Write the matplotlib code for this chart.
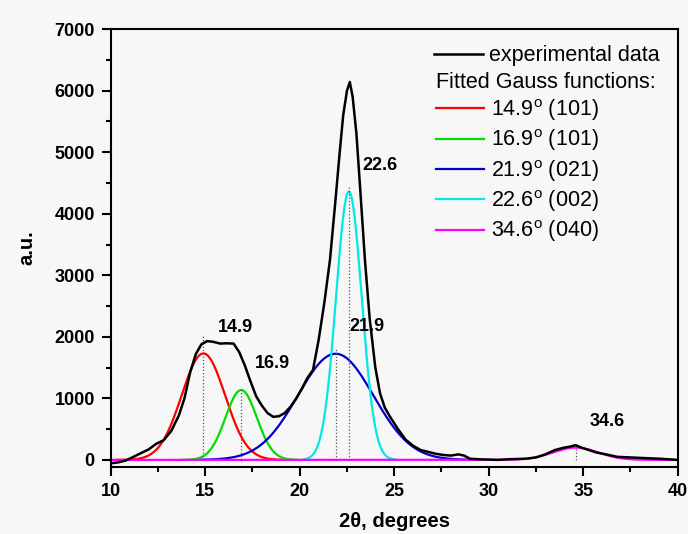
import numpy as np
import matplotlib
matplotlib.use("Agg")
import matplotlib.pyplot as plt

plt.rcParams['font.family'] = ['Liberation Sans', 'DejaVu Sans']
plt.rcParams['mathtext.fontset'] = 'custom'
plt.rcParams['mathtext.rm'] = 'Liberation Sans'

# experimental XRD pattern
exp_x = [10.0, 10.4, 10.8, 11.2, 11.6, 12.0, 12.4, 12.8, 13.2, 13.6, 13.9, 14.2,
         14.5, 14.8, 15.1, 15.4, 15.8, 16.1, 16.5, 16.8, 17.1, 17.4, 17.7, 18.0,
         18.3, 18.6, 18.9, 19.2, 19.5, 19.8, 20.1, 20.4, 20.7, 21.0, 21.3, 21.6,
         21.9, 22.1, 22.3, 22.5, 22.65, 22.8, 23.0, 23.2, 23.45, 23.7, 24.0, 24.25,
         24.5, 24.8, 25.2, 25.6, 26.0, 26.4, 26.8, 27.2, 27.6, 28.0, 28.4, 28.7,
         29.0, 29.5, 30.0, 30.5, 31.0, 31.5, 32.0, 32.5, 33.0, 33.5, 34.0, 34.3,
         34.6, 34.9, 35.3, 35.7, 36.2, 36.8, 37.5, 38.2, 39.0, 39.5, 40.0]
exp_y = [-55, -40, -10, 50, 110, 170, 260, 320, 470, 720, 1000, 1420,
         1720, 1880, 1930, 1920, 1890, 1895, 1890, 1750, 1530, 1270, 1030, 880,
         760, 700, 710, 760, 860, 990, 1150, 1330, 1460, 1950, 2550, 3250,
         4250, 4950, 5600, 6000, 6140, 5900, 5300, 4400, 3250, 2300, 1500, 1080,
         850, 690, 500, 330, 230, 160, 130, 100, 80, 70, 90, 70,
         20, 10, 5, 0, 10, 15, 20, 40, 90, 160, 200, 215,
         240, 200, 160, 120, 90, 50, 40, 30, 20, 10, 0]

# fitted Gauss functions: centre, height, sigma, drawn range
g_labels = ['14.9$^\\mathregular{o}$ (101)', '16.9$^\\mathregular{o}$ (101)',
            '21.9$^\\mathregular{o}$ (021)', '22.6$^\\mathregular{o}$ (002)',
            '34.6$^\\mathregular{o}$ (040)']
g_center = [14.9, 16.9, 21.9, 22.6, 34.6]
g_height = [1730, 1135, 1725, 4360, 200]
g_sigma = [1.15, 0.83, 2.0, 0.68, 1.2]
g_from = [10.3, 13.8, 14.8, 20.2, 10.0]
g_to = [19.5, 19.8, 29.0, 25.1, 40.0]
g_colors = ['#ff0000', '#00dd00', '#0000cc', '#00e8e8', '#ff00ff']

# dotted marker lines and peak labels
mark_top = [2014, 1185, 1803, 4440, 240]
peak_text = ['14.9', '16.9', '21.9', '22.6', '34.6']
text_x = [16.6, 18.55, 23.55, 24.23, 36.25]
text_y = [2144, 1560, 2160, 4777, 617]

fig = plt.figure(figsize=(6.88, 5.34), dpi=100, facecolor='#f7f7f7')
ax = fig.add_axes([0.161, 0.1255, 0.824, 0.82])
ax.set_facecolor('#f7f7f7')

for i in range(len(g_center)):
    gx = np.linspace(g_from[i], g_to[i], 400)
    gy = g_height[i] * np.exp(-0.5 * ((gx - g_center[i]) / g_sigma[i]) ** 2)
    ax.plot(gx, gy, color=g_colors[i], lw=1.6, label=g_labels[i])

ax.vlines(g_center, 0, mark_top, colors='#555555', linestyles=':', lw=0.9)
exp_line, = ax.plot(exp_x, exp_y, color='black', lw=1.8, label='experimental data')

for t, tx, ty in zip(peak_text, text_x, text_y):
    ax.text(tx, ty, t, ha='center', va='center', fontsize=13, fontweight='bold')

ax.set_xlim(10, 40)
ax.set_ylim(-115, 7000)
ax.set_xticks([10, 15, 20, 25, 30, 35, 40])
ax.set_xticks(np.arange(12.5, 40, 5), minor=True)
ax.set_yticks(range(0, 7001, 1000))
ax.set_yticks(range(500, 7000, 1000), minor=True)
ax.tick_params(which='both', direction='out', width=1.5, top=False, right=False)
ax.tick_params(which='major', length=6.5, pad=5, labelsize=13)
ax.tick_params(which='minor', length=3.5)
for lab in ax.get_xticklabels() + ax.get_yticklabels():
    lab.set_fontweight('bold')
for s in ax.spines.values():
    s.set_linewidth(1.5)

ax.set_xlabel('2θ, degrees', fontsize=14.5, fontweight='bold', labelpad=9)
ax.set_ylabel('a.u.', fontsize=14.5, fontweight='bold', labelpad=13)

leg1 = ax.legend(handles=[exp_line], loc='upper left', bbox_to_anchor=(0.571, 0.963),
                 frameon=False, fontsize=15.5, handlelength=2.27, handletextpad=0.28,
                 borderpad=0, borderaxespad=0)
ax.add_artist(leg1)
ax.legend(handles=ax.lines[:5], loc='upper left', bbox_to_anchor=(0.573, 0.903),
          frameon=False, fontsize=15.5, handlelength=2.27, handletextpad=0.28,
          borderpad=0, borderaxespad=0, labelspacing=0.21,
          title='Fitted Gauss functions:', title_fontsize=15.5, alignment='left')

fig.savefig('out.png', dpi=100, facecolor=fig.get_facecolor())
